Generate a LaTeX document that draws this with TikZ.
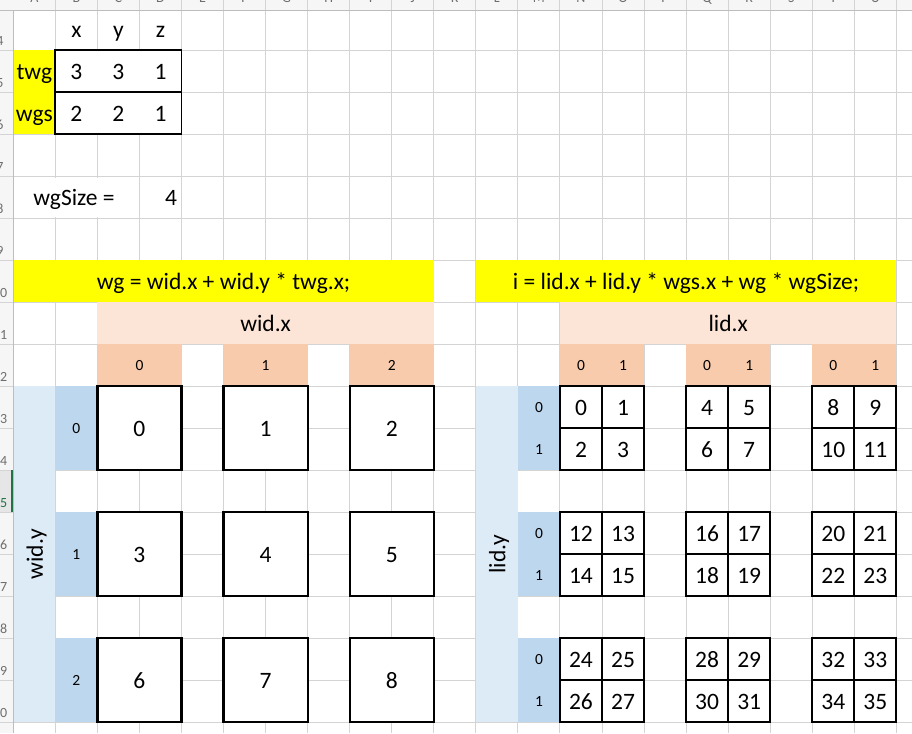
\documentclass[tikz,border=0pt]{standalone}
\usepackage{fontspec}
\setmainfont{Carlito}
\definecolor{cellyellow}{HTML}{FFFF00}
\definecolor{peachlight}{HTML}{FCE4D6}
\definecolor{peachdark}{HTML}{F8CBAD}
\definecolor{bluelight}{HTML}{DDEBF7}
\definecolor{bluedark}{HTML}{BDD7EE}
\definecolor{gridgray}{HTML}{D4D4D4}
\definecolor{headgray}{HTML}{F6F6F6}
\definecolor{headline}{HTML}{BDBDBD}
\definecolor{headtext}{HTML}{6E6E6E}
\definecolor{selgray}{HTML}{E6E6E6}
\definecolor{selgreen}{HTML}{217346}

\begin{document}
\begin{tikzpicture}
[x=42.05pt,y=-42pt,
tx/.style={font=\fontsize{23.5}{28}\selectfont,inner sep=0pt,anchor=base},
big/.style={tx,yshift=-8.6pt},
small/.style={font=\fontsize{15.5}{18}\selectfont,inner sep=0pt,anchor=base,yshift=-5.5pt},
head/.style={font=\fontsize{14}{16}\selectfont,text=headtext,inner sep=0pt,anchor=base},
grid/.style={gridgray,line width=1pt},
box/.style={draw=black,fill=white,line width=2.2pt},
inner/.style={black,line width=1.7pt},]
\useasboundingbox (-0.3163,-0.1976) rectangle (21.3722,17.2548);
\fill[white] (-0.3163,-0.1976) rectangle (21.3722,17.2548);
\fill[headgray] (-0.3163,-0.1976) rectangle (21.3722,0.0476);
\fill[headgray] (-0.3163,0.0476) rectangle (0,17.2548);
\fill[selgray] (-0.3163,11) rectangle (0,12);
\foreach \c in {1,...,21} \draw[grid] (\c,-0.1976) -- (\c,17.2548);
\foreach \r in {1,...,17} \draw[grid] (-0.3163,\r) -- (21.3722,\r);
\fill[white] (0.9,4.03) rectangle (2.1,4.97);
\fill[cellyellow] (0,1) rectangle (1,3);
\fill[cellyellow] (0,6) rectangle (10,7);
\fill[cellyellow] (11,6) rectangle (21,7);
\fill[peachlight] (2,7) rectangle (10,8);
\fill[peachlight] (13,7) rectangle (21,8);
\foreach \c in {2,5,8,13,16,19} \fill[peachdark] (\c,8) rectangle ++(2,1);
\fill[bluelight] (0,9) rectangle (1,17);
\fill[bluelight] (11,9) rectangle (12,17);
\foreach \r in {9,12,15} {\fill[bluedark] (1,\r) rectangle ++(1,2); \fill[bluedark] (12,\r) rectangle ++(1,2);}
\draw[box,line width=1.9pt] (1,1) rectangle (4,3);
\draw[inner,line width=1.9pt] (1,2) -- (4,2);
\foreach \r in {9,12,15} \foreach \c in {2,5,8} \draw[box] (\c,\r) rectangle ++(2,2);
\foreach \r in {9,12,15} \foreach \c in {13,16,19} {
  \draw[box] (\c,\r) rectangle ++(2,2);
  \draw[inner] (\c+1,\r) -- (\c+1,\r+2) (\c,\r+1) -- (\c+2,\r+1);}
\draw[headline,line width=1.2pt] (-0.3163,0.0476) -- (21.3722,0.0476);
\draw[headline,line width=1pt] (0,0.0476) -- (0,17.2548);
\draw[selgreen,line width=1.6pt] (-0.024,11) -- (-0.024,12);
\begin{scope}
\clip (-0.3163,-0.1976) rectangle (21.3722,0.0476);
\foreach \l [count=\i from 0] in {A,...,V} \node[head] (col\l) at (\i+0.5,-0.138) {\l};
\end{scope}
\begin{scope}
\clip (-0.3163,0.0476) rectangle (0,17.2548);
\foreach \n in {4,...,14,16,17,18,19,20} \node[head] (row\n) at (-0.3163,\n-4+0.881) {\n};
\node[head,text=selgreen] (row15) at (-0.3163,11.881) {15};
\end{scope}
\node[big] (hx) at (1.5,0.5) {x};
\node[big] (hy) at (2.5,0.5) {y};
\node[big] (hz) at (3.5,0.5) {z};
\node[big] (twg) at (0.5,1.5) {twg};
\node[big] (wgs) at (0.5,2.5) {wgs};
\foreach \v [count=\i] in {3,3,1} \node[big] (twg\i) at (\i+0.5,1.5) {\v};
\foreach \v [count=\i] in {2,2,1} \node[big] (wgs\i) at (\i+0.5,2.5) {\v};
\node[big] (wgsize) at (1.443,4.5) {wgSize =};
\node[big,anchor=base east] (wgval) at (3.9,4.5) {4};
\node[big] (fwg) at (5,6.5) {wg = wid.x + wid.y * twg.x;};
\node[big] (fi) at (16,6.5) {i = lid.x + lid.y * wgs.x + wg * wgSize;};
\node[big] (widx) at (6,7.5) {wid.x};
\node[big] (lidx) at (17,7.5) {lid.x};
\node[tx,rotate=90] (widy) at ([xshift=8.6pt]0.5,13) {wid.y};
\node[tx,rotate=90] (lidy) at ([xshift=8.6pt]11.5,13) {lid.y};
\foreach \v in {0,1,2} {
  \node[small] (wx\v) at (3*\v+3,8.5) {\v};
  \node[small] (wy\v) at (1.5,3*\v+10) {\v};
  \node[small] (lxa\v) at (3*\v+13.5,8.5) {0};
  \node[small] (lxb\v) at (3*\v+14.5,8.5) {1};
  \node[small] (lya\v) at (12.5,3*\v+9.5) {0};
  \node[small] (lyb\v) at (12.5,3*\v+10.5) {1};}
\foreach \gy in {0,1,2} \foreach \gx in {0,1,2} {
  \pgfmathtruncatemacro\w{\gx+3*\gy}
  \node[big] (wg\w) at (3*\gx+3,3*\gy+10) {\w};
  \foreach \ly in {0,1} \foreach \lx in {0,1} {
    \pgfmathtruncatemacro\k{\lx+2*\ly+4*\w}
    \node[big] (i\k) at (3*\gx+\lx+13.5,3*\gy+\ly+9.5) {\k};}}
\end{tikzpicture}
\end{document}
